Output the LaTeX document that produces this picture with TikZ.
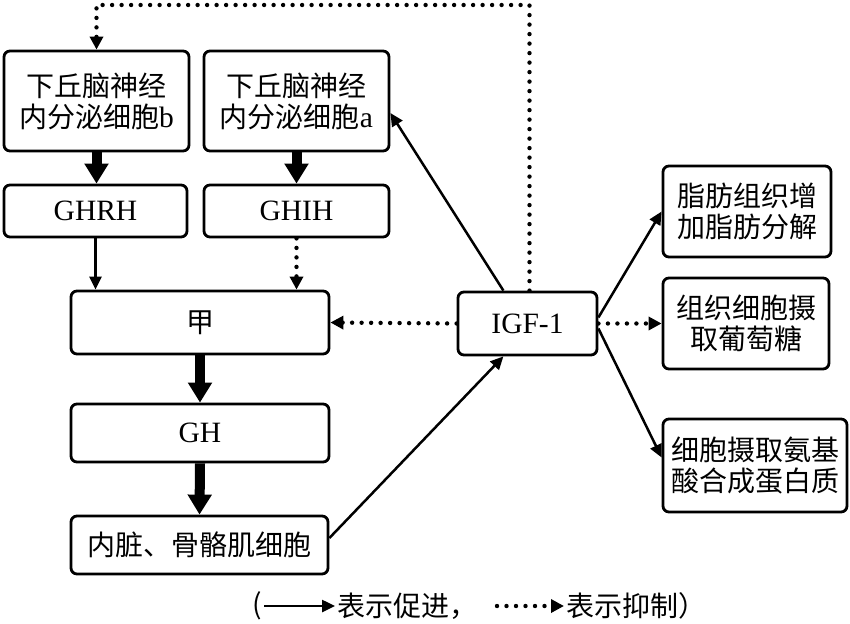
\documentclass[tikz,border=0pt]{standalone}
\usepackage{fontspec}
\setmainfont{Liberation Serif}
\newfontfamily\cjk{Noto Sans CJK SC}
\usetikzlibrary{arrows.meta,calc}
\newcommand{\latin}[1]{{\rmfamily\fontsize{29.5}{31}\selectfont #1}}

\begin{document}
\begin{tikzpicture}[x=1pt,y=-1pt,
  box/.style={draw, line width=2.8pt, rounded corners=6pt, inner sep=0pt,
    align=center, font=\fontsize{28}{31}\selectfont},
  lbl/.style={inner sep=0pt, font=\fontsize{28}{31}\selectfont},
  promote/.style={line width=2.5pt, -{Triangle[length=13pt,width=12pt]}},
  inhibit/.style={line width=4.4pt, line cap=round, dash pattern=on 0pt off 9.5pt,
    -{Triangle[length=13pt,width=13pt]}},
  secrete/.style={line width=10pt, -{Triangle[length=20pt,width=23pt]}}]

\useasboundingbox (0,0) rectangle (850,623);

% hypothalamic neurosecretory cells
\node[box, minimum width=185pt, minimum height=100pt] (hb) at (96.5,101)
  {\cjk 下丘脑神经\\\cjk 内分泌细胞\latin{b}};
\node[box, minimum width=185pt, minimum height=100pt] (ha) at (296.5,101)
  {\cjk 下丘脑神经\\\cjk 内分泌细胞\latin{a}};

% releasing / inhibiting hormones
\node[box, minimum width=183pt, minimum height=52pt] (ghrh) at (95.5,211) {\latin{GHRH}};
\node[box, minimum width=185pt, minimum height=52pt] (ghih) at (296.5,211) {\latin{GHIH}};

% pituitary chain
\node[box, minimum width=258pt, minimum height=63pt] (jia) at (200,322.5) {\cjk 甲};
\node[box, minimum width=258pt, minimum height=58pt] (gh) at (200,433) {\latin{GH}};
\node[box, minimum width=257pt, minimum height=58pt] (nz) at (199.5,545) {\cjk 内脏、骨骼肌细胞};

% IGF-1 and its effects
\node[box, minimum width=139pt, minimum height=63pt] (igf) at (527.5,323.5) {\latin{IGF-1}};
\node[box, minimum width=168pt, minimum height=91pt] (fat) at (747,211.5)
  {\cjk 脂肪组织增\\\cjk 加脂肪分解};
\node[box, minimum width=166pt, minimum height=91pt] (glu) at (746,323.5)
  {\cjk 组织细胞摄\\\cjk 取葡萄糖};
\node[box, minimum width=184pt, minimum height=93pt] (aa) at (755,465.5)
  {\cjk 细胞摄取氨基\\\cjk 酸合成蛋白质};

% secretion arrows
\draw[secrete] (hb.south) -- (hb.south |- ghrh.north);
\draw[secrete] (ha.south) -- (ha.south |- ghih.north);
\draw[secrete] (jia.south) -- (gh.north);
\draw[secrete] (gh.south) -- (nz.north);

% regulation of 甲
\draw[promote] (ghrh.south) -- (ghrh.south |- jia.north);
\draw[inhibit] (ghih.south) -- (ghih.south |- jia.north);

% GH target cells produce IGF-1
\draw[promote] ($(nz.east)+(0,-7)$) -- ($(igf.south west)!0.33!(igf.south east)$);

% IGF-1 feedback
\coordinate (fbtop) at (300,5);
\draw[inhibit] ($(igf.north)+(2,0)$) |- (fbtop) -| (hb.north);
\draw[promote] ($(igf.north west)!0.33!(igf.north east)$) -- ($(ha.east)+(0,12)$);
\draw[inhibit] (igf.west) -- (jia.east);

% IGF-1 effects
\draw[promote] ($(igf.east)+(0,-6)$) -- (fat.west);
\draw[inhibit] (igf.east) -- (glu.west);
\draw[promote] ($(igf.east)+(0,5)$) -- ($(aa.west)+(0,-8)$);

% legend
\node[lbl] (lpar) at (257,606) {\cjk (};
\coordinate (la1) at (264,606);
\coordinate (la2) at (335,606);
\draw[promote] (la1) -- (la2);
\node[lbl, anchor=west] (lt1) at (337,606) {\cjk 表示促进，};
\coordinate (lb1) at (497,606);
\coordinate (lb2) at (564,606);
\draw[inhibit] (lb1) -- (lb2);
\node[lbl, anchor=west] (lt2) at (566,606) {\cjk 表示抑制）};
\end{tikzpicture}
\end{document}
